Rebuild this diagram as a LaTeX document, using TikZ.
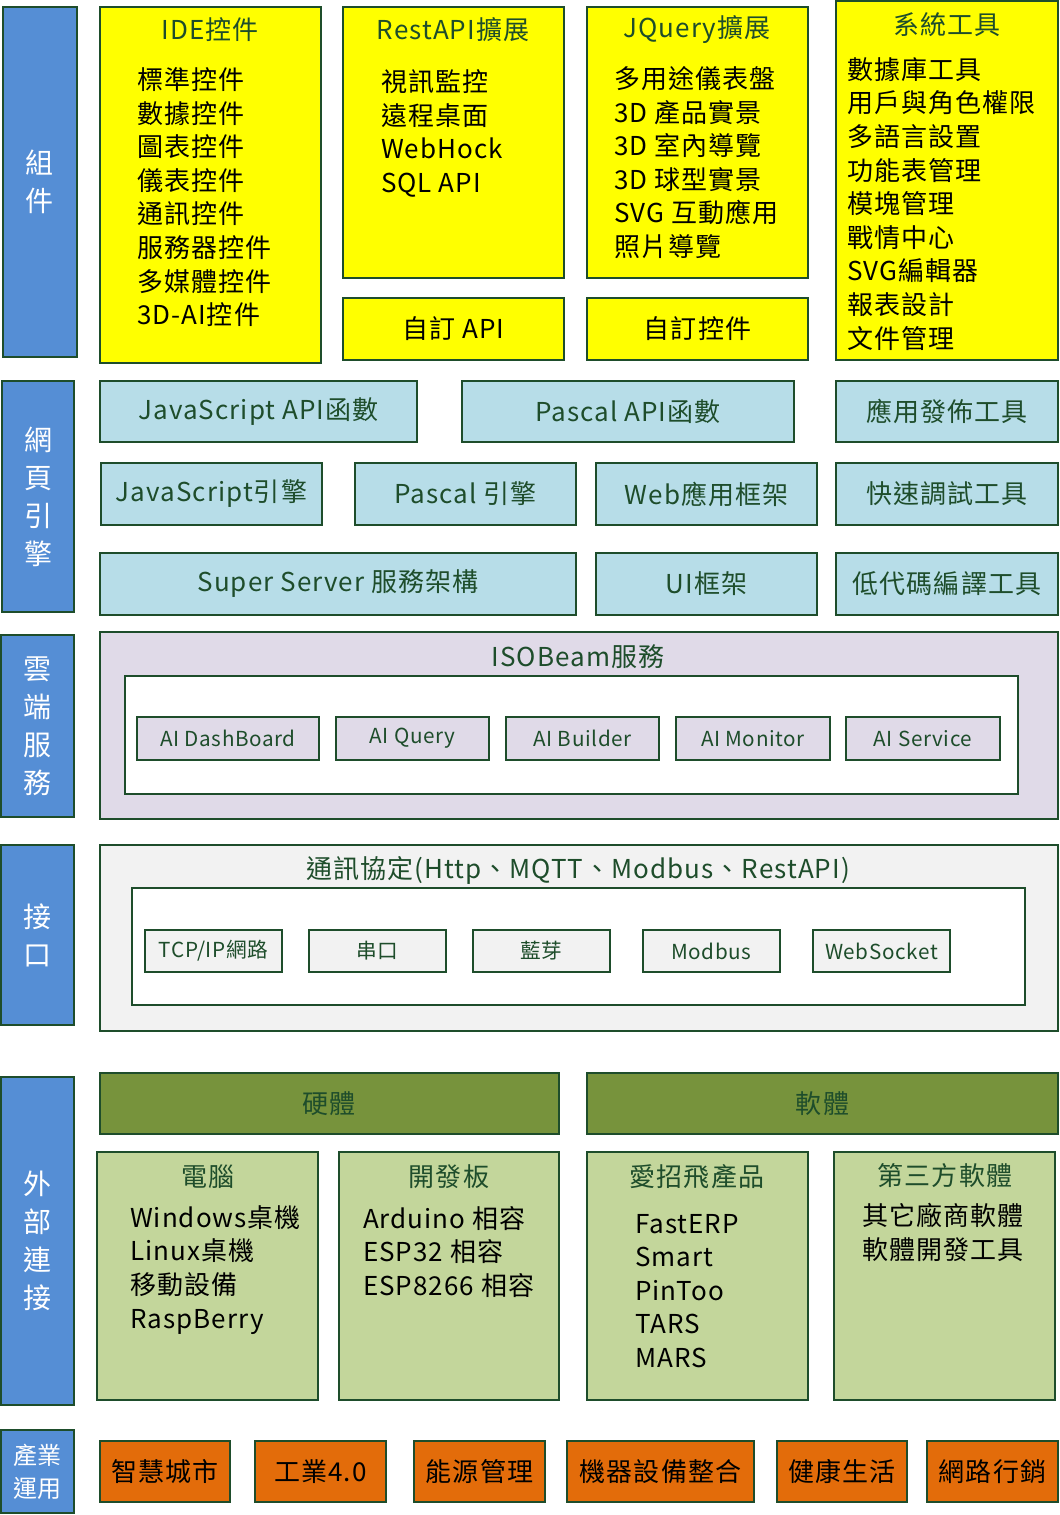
\documentclass[tikz,border=0pt]{standalone}
\usepackage{fontspec}
\setmainfont{Noto Sans CJK TC}
\usepackage{tikz}
\usetikzlibrary{positioning}
\definecolor{labelblue}{HTML}{558ED5}
\definecolor{darkgreen}{HTML}{1E4D2B}
\definecolor{boxyellow}{HTML}{FFFF00}
\definecolor{lightblue}{HTML}{B7DDE8}
\definecolor{lavender}{HTML}{E0DAE8}
\definecolor{lightgrey}{HTML}{F2F2F2}
\definecolor{hwgreen}{HTML}{77933C}
\definecolor{palegreen}{HTML}{C3D69B}
\definecolor{appsorange}{HTML}{E36C0A}
\newcommand{\boxfont}{\fontsize{19.5}{25.2}\selectfont\addfontfeatures{LetterSpace=4}}
\newcommand{\smallfont}{\fontsize{15.5}{18}\selectfont\addfontfeatures{LetterSpace=3}}
\newcommand{\sidefont}{\fontsize{21}{28.5}\selectfont}
\newcommand{\appfont}{\fontsize{18}{25}\selectfont}

\begin{document}
\begin{tikzpicture}[
  x=0.75pt, y=-0.75pt,
  every node/.style={inner sep=0pt, outer sep=0pt},
  wh/.style 2 args={anchor=north west, minimum width=#1*0.75pt, minimum height=#2*0.75pt},
  frame/.style={draw=darkgreen, line width=1pt},
  side/.style={frame, fill=labelblue, text=white, align=center, font=\sidefont},
  ybox/.style={frame, fill=boxyellow, font=\boxfont},
  bbox/.style={frame, fill=lightblue, text=darkgreen, font=\boxfont},
  pbox/.style={frame, fill=lavender, text=darkgreen, font=\smallfont},
  gbox/.style={frame, fill=lightgrey, text=darkgreen, font=\smallfont},
  wbox/.style={frame, fill=white},
  hbox/.style={frame, fill=hwgreen, text=darkgreen, font=\boxfont},
  lbox/.style={frame, fill=palegreen},
  obox/.style={frame, fill=appsorange, font=\boxfont},
  ttl/.style={text=darkgreen, font=\boxfont},
  items/.style={anchor=north west, align=left, font=\boxfont}
]
\path[fill=white, use as bounding box] (0,0) rectangle (1059,1515);

% 組件
\node[side, wh={74}{350}] (comp) at (3,7) {組\\件};
\node[ybox, wh={221}{356}] (ide) at (100,7) {};
\node[ttl] (ideT) at (210,30) {IDE控件};
\node[items] (ideL) at (137,67.5) {標準控件\\數據控件\\圖表控件\\儀表控件\\通訊控件\\服務器控件\\多媒體控件\\3D-AI控件};
\node[ybox, wh={221}{271}] (rest) at (343,7) {};
\node[ttl] (restT) at (453,30) {RestAPI擴展};
\node[items] (restL) at (381,69.5) {視訊監控\\遠程桌面\\WebHock\\SQL API};
\node[ybox, wh={221}{62}] (myapi) at (343,298) {自訂 API};
\node[ybox, wh={221}{271}] (jq) at (587,7) {};
\node[ttl] (jqT) at (697,30) {JQuery擴展};
\node[items] (jqL) at (614,66.5) {多用途儀表盤\\3D 產品實景\\3D 室內導覽\\3D 球型實景\\SVG 互動應用\\照片導覽};
\node[ybox, wh={221}{62}] (myctl) at (587,298) {自訂控件};
\node[ybox, wh={222}{359}] (sys) at (836,1) {};
\node[ttl] (sysT) at (947,25) {系統工具};
\node[items] (sysL) at (847,57.5) {數據庫工具\\用戶與角色權限\\多語言設置\\功能表管理\\模塊管理\\戰情中心\\SVG編輯器\\報表設計\\文件管理};

% 網頁引擎
\node[side, wh={72}{231}] (web) at (2,381) {網\\頁\\引\\擎};
\node[bbox, wh={317}{61}] (jsapi) at (100,381) {JavaScript API函數};
\node[bbox, wh={332}{61}] (psapi) at (462,381) {Pascal API函數};
\node[bbox, wh={222}{61}] (pub) at (836,381) {應用發佈工具};
\node[bbox, wh={221}{62}] (jseng) at (101,463) {JavaScript引擎};
\node[bbox, wh={221}{62}] (pseng) at (355,463) {Pascal 引擎};
\node[bbox, wh={221}{62}] (webfw) at (596,463) {Web應用框架};
\node[bbox, wh={222}{62}] (debug) at (836,463) {快速調試工具};
\node[bbox, wh={476}{62}] (super) at (100,553) {Super Server 服務架構};
\node[bbox, wh={221}{62}] (uifw) at (596,553) {UI框架};
\node[bbox, wh={222}{62}] (lowcode) at (836,553) {低代碼編譯工具};

% 雲端服務
\node[side, wh={73}{182}] (cloud) at (1,635) {雲\\端\\服\\務};
\node[pbox, wh={958}{187}] (iso) at (100,632) {};
\node[ttl] (isoT) at (578,657) {ISOBeam服務};
\node[wbox, wh={893}{118}] (isoIn) at (125,676) {};
\node[pbox, wh={182}{43}] (aiDash) at (137,717) {AI DashBoard};
\node[pbox, wh={153}{43}] (aiQuery) at (336,717) {AI Query};
\node[pbox, wh={153}{43}] (aiBuild) at (506,717) {AI Builder};
\node[pbox, wh={154}{43}] (aiMon) at (676,717) {AI Monitor};
\node[pbox, wh={154}{43}] (aiSvc) at (846,717) {AI Service};

% 接口
\node[side, wh={73}{180}] (iface) at (1,845) {接\\口};
\node[gbox, wh={958}{186}] (proto) at (100,845) {};
\node[ttl] (protoT) at (578,870) {通訊協定(Http、MQTT、Modbus、RestAPI)};
\node[wbox, wh={893}{117}] (protoIn) at (132,888) {};
\node[gbox, wh={137}{42}] (tcp) at (145,930) {TCP/IP網路};
\node[gbox, wh={137}{42}] (serial) at (309,930) {串口};
\node[gbox, wh={137}{42}] (bt) at (473,930) {藍芽};
\node[gbox, wh={137}{42}] (modbus) at (643,930) {Modbus};
\node[gbox, wh={137}{42}] (wsock) at (813,930) {WebSocket};

% 外部連接
\node[side, wh={73}{328}] (ext) at (1,1077) {外\\部\\連\\接};
\node[hbox, wh={459}{61}] (hw) at (100,1073) {硬體};
\node[hbox, wh={471}{61}] (sw) at (587,1073) {軟體};
\node[lbox, wh={221}{248}] (pc) at (97,1152) {};
\node[ttl] (pcT) at (208,1177) {電腦};
\node[items] (pcL) at (130,1205.5) {Windows桌機\\Linux桌機\\移動設備\\RaspBerry};
\node[lbox, wh={220}{248}] (board) at (339,1152) {};
\node[ttl] (boardT) at (449,1177) {開發板};
\node[items] (boardL) at (363,1206) {Arduino 相容\\ESP32 相容\\ESP8266 相容};
\node[lbox, wh={221}{248}] (prod) at (587,1152) {};
\node[ttl] (prodT) at (697,1177) {愛招飛產品};
\node[items] (prodL) at (635,1214) {FastERP\\Smart\\PinToo\\TARS\\MARS};
\node[lbox, wh={221}{248}] (third) at (834,1152) {};
\node[ttl] (thirdT) at (945,1176) {第三方軟體};
\node[items] (thirdL) at (862,1203.5) {其它廠商軟體\\軟體開發工具};

% 產業運用
\node[side, wh={73}{83}, font=\appfont] (ind) at (1,1430) {產業\\運用};
\node[obox, wh={130}{61}] (city) at (100,1441) {智慧城市};
\node[obox, wh={131}{61}] (ind40) at (255,1441) {工業4.0};
\node[obox, wh={131}{61}] (energy) at (414,1441) {能源管理};
\node[obox, wh={187}{61}] (machine) at (567,1441) {機器設備整合};
\node[obox, wh={130}{61}] (health) at (777,1441) {健康生活};
\node[obox, wh={131}{61}] (market) at (927,1441) {網路行銷};
\end{tikzpicture}
\end{document}
